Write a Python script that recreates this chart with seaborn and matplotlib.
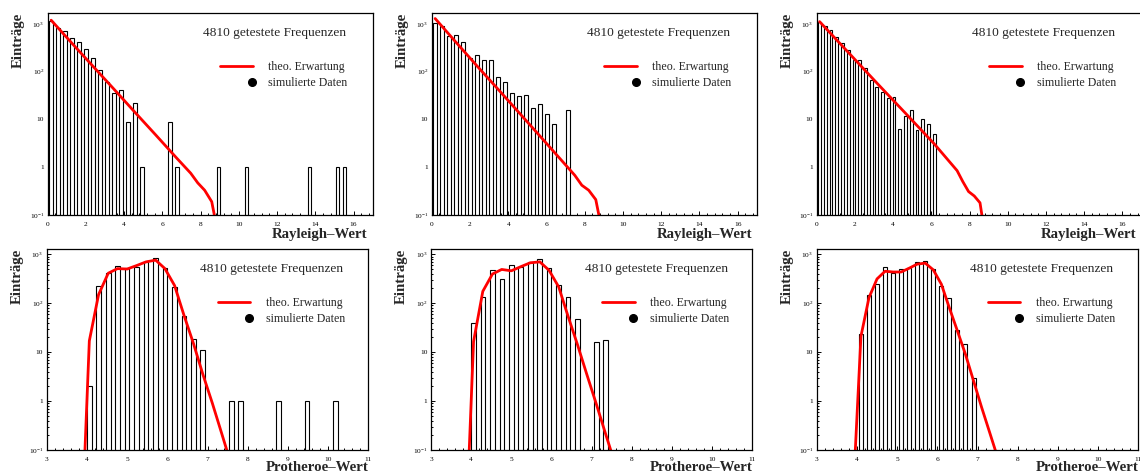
import numpy as np
import pandas as pd
import matplotlib
matplotlib.use("Agg")
import matplotlib.pyplot as plt
import seaborn as sns
from matplotlib.lines import Line2D
from matplotlib.legend_handler import HandlerLine2D
from matplotlib.ticker import MultipleLocator, LogLocator, NullFormatter, FixedLocator

# ---------------- data ----------------
count_label = "4810 getestete Frequenzen"
legend_labels = ["theo. Erwartung", "simulierte Daten"]
y_title = "Einträge"
x_title_top = "Rayleigh–Wert"
x_title_bottom = "Protheroe–Wert"

ytick_values = [0.1, 1, 10, 100, 1000]
ytick_labels = [r"$10^{-1}$", "1", "10", r"$10^{2}$", r"$10^{3}$"]

# top row (Rayleigh values): binning start / width, counts per bin
tl_bin_start, tl_bin_width = 0.0, 0.365
tl_counts = [1180, 810, 710, 510, 420, 300, 190, 110, 62, 36, 42, 9, 22, 1,
             0, 0, 0, 9, 1, 0, 0, 0, 0, 0, 1, 0, 0, 0, 1,
             0, 0, 0, 0, 0, 0, 0, 0, 1, 0, 0, 0, 1, 1]
tl_theo_x = [0.18, 1.28, 2.37, 3.47, 4.56, 5.66, 6.75, 7.48, 7.85, 8.21, 8.58, 8.94]
tl_theo_y = [1200, 390, 130, 43, 14.2, 4.7, 1.55, 0.75, 0.47, 0.33, 0.19, 0.035]

tm_bin_start, tm_bin_width = 0.0, 0.365
tm_counts = [1050, 920, 570, 580, 420, 190, 220, 178, 175, 78, 62, 36, 31, 33,
             17, 21, 13, 8, 0, 16]
tm_theo_x = [0.18, 1.28, 2.37, 3.47, 4.56, 5.66, 6.75, 7.48, 7.85, 8.21, 8.58, 8.94]
tm_theo_y = [1300, 410, 132, 43, 14, 4.5, 1.45, 0.68, 0.42, 0.33, 0.21, 0.04]

tr_bin_start, tr_bin_width = 0.0, 0.30
tr_counts = [1120, 910, 730, 530, 405, 285, 180, 175, 121, 67, 47, 37, 28, 29,
             6.2, 12, 15.6, 6, 10.3, 8.2, 4.9]
tr_theo_x = [0.15, 1.65, 3.15, 4.65, 6.15, 7.35, 7.65, 7.95, 8.25, 8.55, 8.85]
tr_theo_y = [1120, 255, 58, 13.5, 3.1, 0.85, 0.5, 0.31, 0.25, 0.18, 0.03]

# bottom row (Protheroe values)
bl_bin_start, bl_bin_width = 3.0, 8.0 / 34
bl_counts = [0, 0, 0, 0, 2, 220, 420, 580, 530, 560, 680, 830, 520, 210, 55, 19, 11,
             0, 0, 1, 1, 0, 0, 0, 1, 0, 0, 1, 0, 0, 1]
bl_theo_x = [3.82, 4.06, 4.29, 4.53, 4.76, 5.00, 5.24, 5.47, 5.71, 5.94, 6.18,
             6.41, 6.65, 6.88, 7.12, 7.35, 7.59]
bl_theo_y = [2e-4, 17, 150, 410, 510, 500, 590, 700, 760, 510, 230, 58, 15, 3.6,
             0.9, 0.22, 0.05]

bm_bin_start, bm_bin_width = 3.0, 8.0 / 34
bm_counts = [0, 0, 0, 0, 40, 135, 470, 310, 600, 560, 700, 800, 530, 235, 135, 48,
             0, 16, 18]
bm_theo_x = [3.82, 4.06, 4.29, 4.53, 4.76, 5.00, 5.24, 5.47, 5.71, 5.94, 6.18,
             6.41, 6.65, 6.88, 7.12, 7.35, 7.59]
bm_theo_y = [2e-4, 16.5, 175, 395, 490, 460, 560, 670, 700, 470, 215, 55, 14, 3.5,
             0.85, 0.21, 0.05]

br_bin_start, br_bin_width = 3.0, 0.2
br_counts = [0, 0, 0, 0, 0, 24, 145, 250, 560, 420, 490, 530, 700, 740, 490, 225,
             125, 29, 15, 3]
br_theo_x = [3.9, 4.1, 4.3, 4.5, 4.7, 4.9, 5.1, 5.3, 5.5, 5.7, 5.9, 6.1, 6.3, 6.5,
             6.7, 6.9, 7.1, 7.3, 7.5]
br_theo_y = [0.01, 21, 130, 314, 450, 435, 435, 520, 630, 660, 480, 245, 80, 27,
             9, 2.6, 0.75, 0.23, 0.07]

# ---------------- style ----------------
sns.set_style("ticks")
plt.rcParams["font.family"] = ["Liberation Serif", "DejaVu Serif"]
plt.rcParams["mathtext.fontset"] = "custom"
plt.rcParams["mathtext.rm"] = "Liberation Serif"
plt.rcParams["mathtext.it"] = "Liberation Serif:italic"
plt.rcParams["mathtext.bf"] = "Liberation Serif:bold"
plt.rcParams["axes.unicode_minus"] = True

W, H = 1140, 475
fig = plt.figure(figsize=(W / 100, H / 100), dpi=100)


class RightMarker(HandlerLine2D):
    """Legend key with the marker placed at the right end of the key area."""
    def get_xdata(self, legend, xdescent, ydescent, width, height, fontsize):
        right = -xdescent + width
        return [right - 0.1 * width, right], [right - 0.05 * width]


def px_axes(left, right, top, bottom):
    return fig.add_axes([left / W, 1 - bottom / H, (right - left) / W, (bottom - top) / H])


def panel(ax, start, width, counts, tx, ty, xlim, ylim_top, major, minor, xtitle,
          xtitle_x, xtitle_y):
    counts = np.asarray(counts, dtype=float)
    edges = start + np.arange(len(counts) + 1) * width
    centers = 0.5 * (edges[:-1] + edges[1:])
    keep = counts > 0
    hist_df = pd.DataFrame({"value": centers[keep], "count": counts[keep]})
    sns.histplot(data=hist_df, x="value", weights="count", bins=list(edges), shrink=0.5,
                 ax=ax, color="white", edgecolor="black", linewidth=0.8, alpha=1)
    for p in list(ax.patches):
        if p.get_height() <= 0:
            p.remove()
    theo_df = pd.DataFrame({"x": tx, "y": ty})
    sns.lineplot(data=theo_df, x="x", y="y", ax=ax, color="red", linewidth=2.0,
                 estimator=None, sort=False)
    ax.set_yscale("log")
    ax.set_xlim(*xlim)
    ax.set_ylim(0.1, ylim_top)

    ax.yaxis.set_major_locator(FixedLocator(ytick_values))
    ax.set_yticklabels(ytick_labels)
    ax.yaxis.set_minor_locator(LogLocator(base=10, subs=np.arange(2, 10)))
    ax.yaxis.set_minor_formatter(NullFormatter())
    ax.xaxis.set_major_locator(MultipleLocator(major))
    ax.xaxis.set_minor_locator(MultipleLocator(minor))
    ax.tick_params(which="both", direction="in", top=False, right=False,
                   labelsize=5.3, width=0.7, colors="black")
    ax.tick_params(which="major", length=3.0)
    ax.tick_params(which="minor", length=1.6)
    ax.tick_params(axis="x", pad=5.0)
    ax.tick_params(axis="y", pad=2.5)
    for s in ax.spines.values():
        s.set_visible(True)
        s.set_linewidth(0.9)
        s.set_color("black")

    ax.set_ylabel(y_title, fontsize=10.7, fontweight="bold", loc="top")
    ax.yaxis.set_label_coords(-0.072, 1.0)
    ax.set_xlabel(xtitle, fontsize=10.7, fontweight="bold", loc="right")
    ax.xaxis.set_label_coords(xtitle_x, xtitle_y)

    ax.text(0.478, 0.90, count_label, transform=ax.transAxes, fontsize=9.6,
            ha="left", va="center")
    h_line = Line2D([], [], color="red", lw=2.0)
    h_dot = Line2D([], [], color="black", marker="o", ls="none", markersize=5.5)
    ax.legend(handles=[h_line, h_dot], labels=legend_labels, loc="upper left",
              bbox_to_anchor=(0.531, 0.76), frameon=False, fontsize=8.6,
              handlelength=2.76, handletextpad=1.26, labelspacing=0.35,
              borderpad=0, borderaxespad=0,
              handler_map={h_dot: RightMarker(numpoints=1)})


top_rows = (12.7, 215)
bot_rows = (249, 450)

ax = px_axes(47.7, 372.7, *top_rows)
panel(ax, tl_bin_start, tl_bin_width, tl_counts, tl_theo_x, tl_theo_y, (0, 17), 1722, 2, 0.4, x_title_top, 0.985, -0.064)
ax = px_axes(431.7, 756.8, *top_rows)
panel(ax, tm_bin_start, tm_bin_width, tm_counts, tm_theo_x, tm_theo_y, (0, 17), 1722, 2, 0.4, x_title_top, 0.985, -0.064)
ax = px_axes(816.7, 1141.4, *top_rows)
panel(ax, tr_bin_start, tr_bin_width, tr_counts, tr_theo_x, tr_theo_y, (0, 17), 1722, 2, 0.4, x_title_top, 0.985, -0.064)

ax = px_axes(46.7, 368.4, *bot_rows)
panel(ax, bl_bin_start, bl_bin_width, bl_counts, bl_theo_x, bl_theo_y, (3, 11), 1283, 1, 0.2, x_title_bottom, 1.0, -0.055)
ax = px_axes(431.0, 752.3, *bot_rows)
panel(ax, bm_bin_start, bm_bin_width, bm_counts, bm_theo_x, bm_theo_y, (3, 11), 1283, 1, 0.2, x_title_bottom, 1.0, -0.055)
ax = px_axes(816.7, 1138.4, *bot_rows)
panel(ax, br_bin_start, br_bin_width, br_counts, br_theo_x, br_theo_y, (3, 11), 1283, 1, 0.2, x_title_bottom, 1.0, -0.055)

fig.savefig("out.png", dpi=100)
